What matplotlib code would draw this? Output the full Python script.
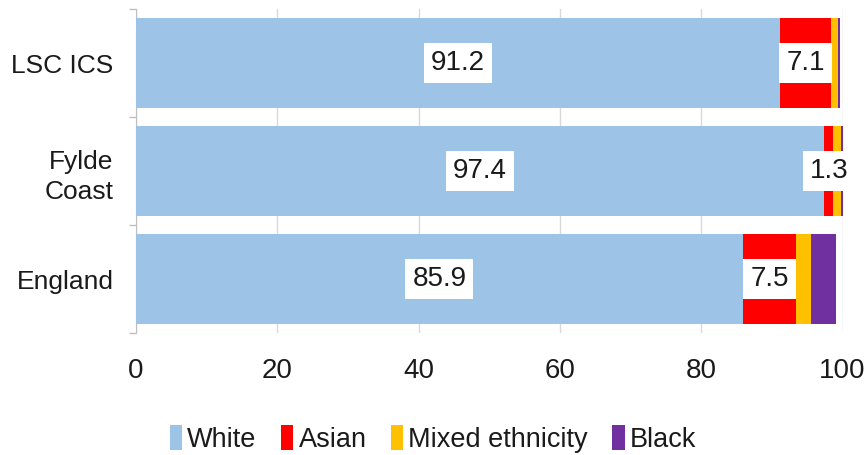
import numpy as np
import matplotlib.pyplot as plt

areas = ["LSC ICS", "Fylde\nCoast", "England"]
groups = ["White", "Asian", "Mixed ethnicity", "Black"]
white = [91.2, 97.4, 85.9]
asian = [7.1, 1.3, 7.5]
mixed = [1.1, 1.1, 2.1]
black = [0.25, 0.2, 3.5]
colors = ["#9DC3E6", "#FF0000", "#FFC000", "#7030A0"]

plt.rcParams['font.family'] = ['Liberation Sans', 'DejaVu Sans']

fig = plt.figure(figsize=(8.66, 4.55), dpi=100)
ax = fig.add_axes([0.157, 0.268, 0.816, 0.712])

y = np.arange(len(areas))
left = np.zeros(len(areas))
for name, vals, col in zip(groups, [white, asian, mixed, black], colors):
    bars = ax.barh(y, vals, left=left, height=0.83, color=col, label=name, zorder=3)
    # value boxes only on the two largest groups
    if name in ("White", "Asian"):
        for b, v in zip(bars, vals):
            ax.text(b.get_x() + b.get_width() / 2, b.get_y() + b.get_height() / 2,
                    f"{v:.1f}", ha="center", va="center", fontsize=20, color="#1a1a1a",
                    zorder=5, clip_on=False,
                    bbox=dict(facecolor="white", edgecolor="none", pad=5))
    left += np.array(vals)

ax.set_xlim(0, 100)
ax.set_ylim(2.5, -0.5)
ax.set_xticks(range(0, 101, 20))
ax.set_yticks(y)
ax.set_yticklabels(areas, fontsize=19, color="#1a1a1a", linespacing=1.35)
ax.set_yticks([-0.5, 0.5, 1.5, 2.5], minor=True)
ax.tick_params(axis="y", which="major", length=0, pad=16)
ax.tick_params(axis="y", which="minor", length=5, color="#bfbfbf", width=1)
ax.tick_params(axis="x", length=0, pad=18, labelsize=20, labelcolor="#1a1a1a")
ax.grid(axis="x", color="#d9d9d9", linewidth=1, zorder=0)

for s in ["top", "right", "bottom"]:
    ax.spines[s].set_visible(False)
ax.spines["left"].set_color("#bfbfbf")

fig.legend(loc="center", bbox_to_anchor=(0.5, 0.035), ncol=4, frameon=False,
           fontsize=19.5, handlelength=0.45, handleheight=1.0, handletextpad=0.2,
           columnspacing=0.9, labelcolor="#1a1a1a")

fig.savefig("out.png", dpi=100)
